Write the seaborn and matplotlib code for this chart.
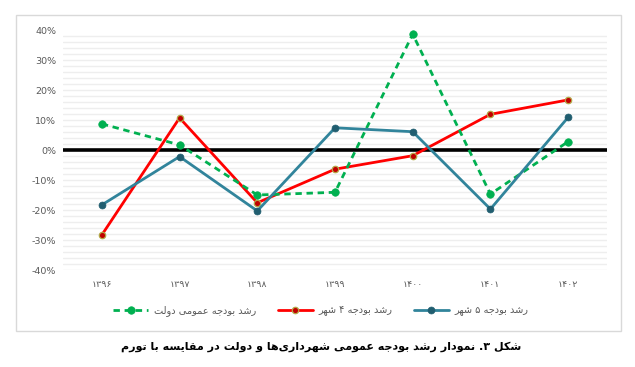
import matplotlib
matplotlib.use("Agg")
import matplotlib.pyplot as plt
import seaborn as sns
import pandas as pd
from matplotlib.patches import Rectangle
from matplotlib.lines import Line2D

# ---------------- data ----------------
years = [1396, 1397, 1398, 1399, 1400, 1401, 1402]
year_labels = ["۱۳۹۶", "۱۳۹۷", "۱۳۹۸", "۱۳۹۹", "۱۴۰۰", "۱۴۰۱", "۱۴۰۲"]
gov_growth = [0.087, 0.017, -0.150, -0.141, 0.386, -0.147, 0.028]
city4_growth = [-0.283, 0.107, -0.176, -0.064, -0.019, 0.119, 0.167]
city5_growth = [-0.183, -0.022, -0.203, 0.074, 0.061, -0.197, 0.109]
series_names = ["رشد بودجه عمومی دولت", "رشد بودجه ۴ شهر", "رشد بودجه ۵ شهر"]
title_text = "شکل ۳. نمودار رشد بودجه عمومی شهرداری‌ها و دولت در مقایسه با تورم"
y_ticks = [-0.4, -0.3, -0.2, -0.1, 0.0, 0.1, 0.2, 0.3, 0.4]

# ---------------- minimal Arabic/Persian shaping ----------------
FORMS = {
    'ا': ('\uFE8D', '\uFE8E', None, None),
    'ب': ('\uFE8F', '\uFE90', '\uFE91', '\uFE92'),
    'ت': ('\uFE95', '\uFE96', '\uFE97', '\uFE98'),
    'ج': ('\uFE9D', '\uFE9E', '\uFE9F', '\uFEA0'),
    'د': ('\uFEA9', '\uFEAA', None, None),
    'ر': ('\uFEAD', '\uFEAE', None, None),
    'س': ('\uFEB1', '\uFEB2', '\uFEB3', '\uFEB4'),
    'ش': ('\uFEB5', '\uFEB6', '\uFEB7', '\uFEB8'),
    'ع': ('\uFEC9', '\uFECA', '\uFECB', '\uFECC'),
    'ق': ('\uFED5', '\uFED6', '\uFED7', '\uFED8'),
    'ل': ('\uFEDD', '\uFEDE', '\uFEDF', '\uFEE0'),
    'م': ('\uFEE1', '\uFEE2', '\uFEE3', '\uFEE4'),
    'ن': ('\uFEE5', '\uFEE6', '\uFEE7', '\uFEE8'),
    'ه': ('\uFEE9', '\uFEEA', '\uFEEB', '\uFEEC'),
    'و': ('\uFEED', '\uFEEE', None, None),
    'ک': ('\uFB8E', '\uFB8F', '\uFB90', '\uFB91'),
    'ی': ('\uFBFC', '\uFBFD', '\uFBFE', '\uFBFF'),
}


def shape(text):
    chars = list(text)
    out = []
    for i, c in enumerate(chars):
        if c not in FORMS:
            if c != '\u200c':
                out.append(c)
            continue
        prev = chars[i - 1] if i > 0 else None
        nxt = chars[i + 1] if i + 1 < len(chars) else None
        jp = prev in FORMS and FORMS[prev][2] is not None
        jn = nxt in FORMS and FORMS[c][2] is not None
        iso, fin, ini, med = FORMS[c]
        if jp and jn:
            out.append(med)
        elif jp:
            out.append(fin)
        elif jn:
            out.append(ini)
        else:
            out.append(iso)
    vis = out[::-1]
    res, run = [], []
    for c in vis:
        if c.isdigit():
            run.append(c)
        else:
            res.extend(run[::-1]); run = []
            res.append(c)
    res.extend(run[::-1])
    return "".join(res)


# ---------------- figure ----------------
sns.set_style("white")
plt.rcParams['font.family'] = ['DejaVu Sans']

W, H = 635, 367
fig = plt.figure(figsize=(W / 100, H / 100), dpi=100)
ax = fig.add_axes([63 / W, 1 - 270 / H, (607 - 63) / W, (270 - 30) / H])

df = pd.DataFrame({
    "year": years * 3,
    "value": gov_growth + city4_growth + city5_growth,
    "series": [series_names[0]] * 7 + [series_names[1]] * 7 + [series_names[2]] * 7,
})

for v in range(-40, 40, 2):
    if v != 0:
        ax.axhline(v / 100, color="#eeeeee", lw=1.0, zorder=0)
ax.axhline(0, color="black", lw=2.6, zorder=1)

styles = {
    series_names[0]: dict(color="#00B050", ls=(0, (2.3, 1.7)), mfc="#00B050", mec="#00B050", ms=5.4, mew=0.5),
    series_names[1]: dict(color="#FF0000", ls="-", mfc="#C00000", mec="#B3A748", ms=4.6, mew=0.9),
    series_names[2]: dict(color="#31849B", ls="-", mfc="#215E70", mec="#215E70", ms=5.0, mew=0.5),
}
order = [series_names[1], series_names[0], series_names[2]]
for name in order:
    st = styles[name]
    sub = df[df["series"] == name]
    sns.lineplot(data=sub, x="year", y="value", ax=ax, color=st["color"], lw=2.0,
                 linestyle=st["ls"], marker="o", markersize=st["ms"],
                 markerfacecolor=st["mfc"], markeredgecolor=st["mec"], markeredgewidth=st["mew"],
                 legend=False, zorder=3, sort=False)

ax.set_xlim(years[0] - 0.5, years[-1] + 0.5)
ax.set_ylim(-0.4, 0.4)
ax.set_yticks(y_ticks)
ax.set_yticklabels([f"{int(round(t * 100))}%" for t in y_ticks], color="#595959", fontsize=6.8)
ax.set_xticks(years)
ax.set_xticklabels(year_labels, color="#595959", fontsize=6.8)
ax.tick_params(axis="y", length=0, pad=5)
ax.tick_params(axis="x", length=0, pad=7)
ax.set_xlabel("")
ax.set_ylabel("")
for s in ax.spines.values():
    s.set_visible(False)

handles = []
for name in series_names:
    st = styles[name]
    handles.append(Line2D([0], [0], color=st["color"], lw=2.0, linestyle=st["ls"], marker="o",
                          markersize=st["ms"], markerfacecolor=st["mfc"], markeredgecolor=st["mec"],
                          markeredgewidth=st["mew"]))
leg = fig.legend(handles, [shape(n) for n in series_names], loc="center",
                 bbox_to_anchor=(321 / W, 1 - 311 / H), ncol=3, frameon=False,
                 fontsize=7.0, handlelength=3.6, columnspacing=2.2, handletextpad=0.6)
for t in leg.get_texts():
    t.set_color("#595959")

fig.patches.append(Rectangle((16 / W, 1 - 331 / H), (621 - 16) / W, (331 - 15) / H,
                             transform=fig.transFigure, fill=False, edgecolor="#d9d9d9", lw=1.0))

fig.text(321 / W, 1 - 347 / H, shape(title_text), ha="center", va="center",
         fontsize=8.0, fontweight="bold", color="black")

fig.savefig("out.png", dpi=100)
